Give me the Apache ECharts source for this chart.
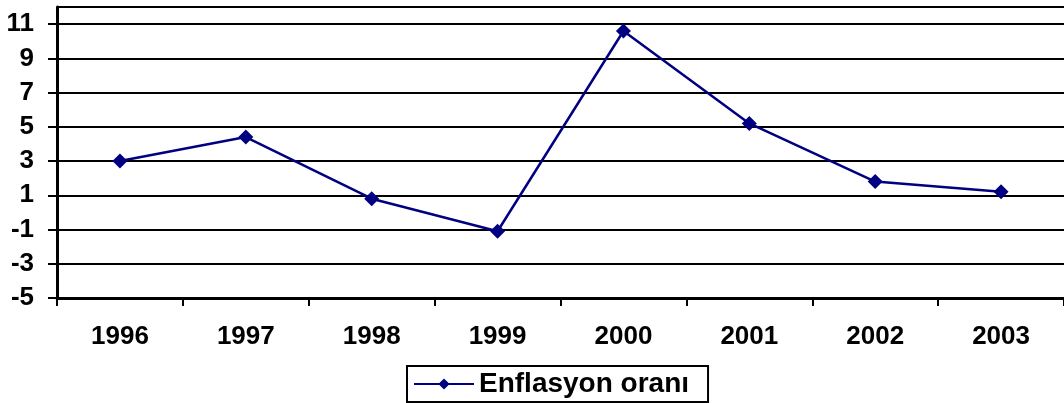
<!DOCTYPE html>
<html>
<head>
<meta charset="utf-8">
<script src="https://cdn.jsdelivr.net/npm/echarts@6/dist/echarts.min.js"></script>
<style>
    html, body { margin: 0; padding: 0; background: #fff; }
    #chart { width: 1064px; height: 403px; }
</style>
</head>
<body>
<div id="chart"></div>
<script>
const years = ["1996", "1997", "1998", "1999", "2000", "2001", "2002", "2003"]
const enflasyon = [3.0, 4.4, 0.8, -1.1, 10.6, 5.2, 1.8, 1.2]
const seriesName = "Enflasyon oranı"

const font = "Liberation Sans, Arial, sans-serif"
var myChart = echarts.init(document.getElementById("chart"))

var option = {
    animation: false,
    backgroundColor: "#fff",
    grid: {
        left: 57,
        right: 0,
        top: 7,
        bottom: 105,
    },
    legend: {
        data: [seriesName],
        left: 407,
        top: 366,
        padding: [4, 19, 4, 6],
        borderColor: "#000",
        borderWidth: 2,
        itemWidth: 60,
        itemHeight: 14,
        itemGap: 0,
        textStyle: {
            fontFamily: font,
            fontWeight: "bold",
            fontSize: 28,
            color: "#000",
        },
    },
    xAxis: {
        type: "category",
        data: years,
        boundaryGap: true,
        axisLine: { onZero: false, lineStyle: { color: "#000", width: 3 } },
        axisTick: { show: true, length: 8, lineStyle: { color: "#000", width: 2 } },
        axisLabel: {
            margin: 26,
            fontFamily: font,
            fontWeight: "bold",
            fontSize: 26,
            color: "#000",
        },
        splitLine: { show: false },
    },
    yAxis: {
        type: "value",
        min: -5,
        max: 12,
        interval: 2,
        axisLine: { show: true, lineStyle: { color: "#000", width: 3 } },
        axisTick: { show: true, length: 9, lineStyle: { color: "#000", width: 2 } },
        axisLabel: {
            margin: 23,
            showMaxLabel: false,
            fontFamily: font,
            fontWeight: "bold",
            fontSize: 26,
            color: "#000",
        },
        splitLine: { show: true, lineStyle: { color: "#000", width: 2 } },
    },
    series: [
        {
            name: seriesName,
            type: "line",
            data: enflasyon,
            symbol: "diamond",
            symbolSize: 15,
            lineStyle: { color: "#000080", width: 2.5 },
            itemStyle: { color: "#000080" },
        },
    ],
}

myChart.setOption(option)
</script>
</body>
</html>
